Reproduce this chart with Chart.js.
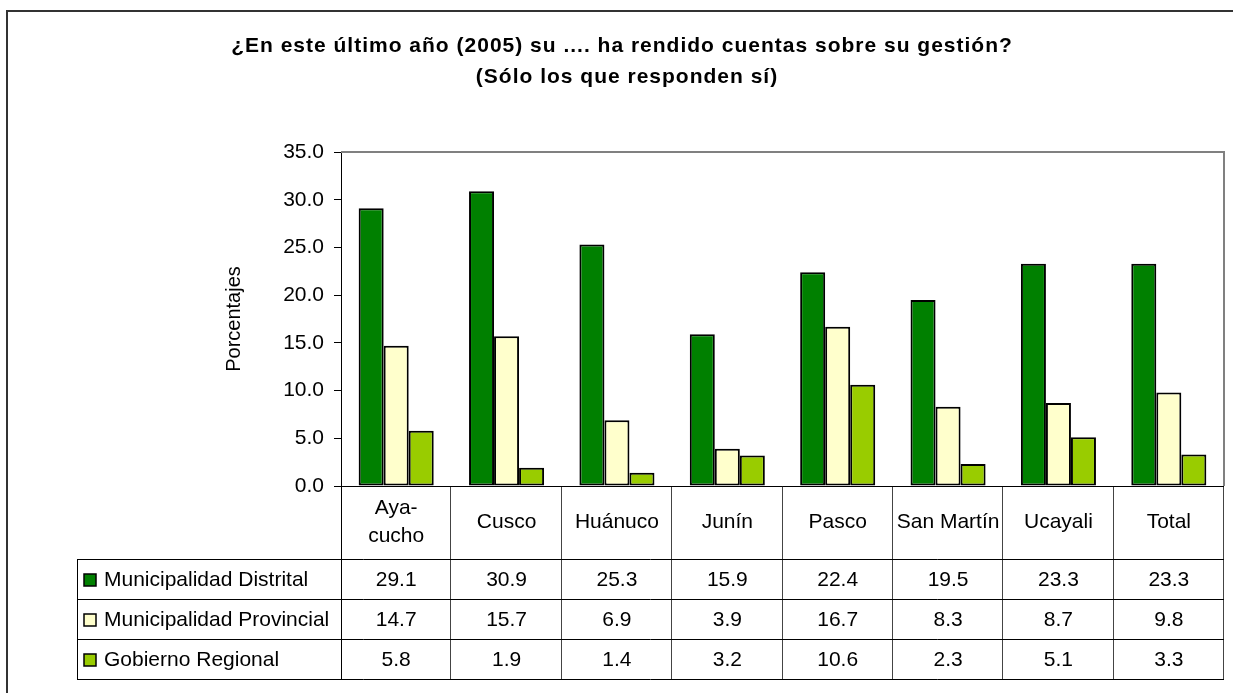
<!DOCTYPE html>
<html>
<head>
<meta charset="utf-8">
<script src="https://cdn.jsdelivr.net/npm/chart.js@4.4.1/dist/chart.umd.min.js"></script>
<style>
html,body{margin:0;padding:0;background:#fff;}
canvas{display:block;}
</style>
</head>
<body>
<canvas id="c" width="1233" height="693"></canvas>
<script>
const categories = [['Aya-','cucho'],'Cusco','Huánuco','Junín','Pasco','San Martín','Ucayali','Total'];
const seriesNames = ['Municipalidad Distrital','Municipalidad Provincial','Gobierno Regional'];
const distrital = [29.1,30.9,25.3,15.9,22.4,19.5,23.3,23.3];
const provincial = [14.7,15.7,6.9,3.9,16.7,8.3,8.7,9.8];
const regional = [5.8,1.9,1.4,3.2,10.6,2.3,5.1,3.3];
const seriesColors = ['#008000','#FFFFCC','#99CC00'];
const titleLines = ['¿En este último año (2005) su .... ha rendido cuentas sobre su gestión?','(Sólo los que responden sí)'];
const yAxisTitle = 'Porcentajes';
const yMin = 0, yMax = 35, yStep = 5;

const FONT = '"Liberation Sans", Arial, sans-serif';
const seriesValues = [distrital, provincial, regional];

const decorPlugin = {
  id: 'decor',
  afterDraw(chart) {
    const {ctx, chartArea: ca, scales: {x}} = chart;
    ctx.save();
    // outer frame
    ctx.strokeStyle = '#333';
    ctx.lineWidth = 2;
    ctx.beginPath();
    ctx.moveTo(7, 693);
    ctx.lineTo(7, 11);
    ctx.lineTo(1233, 11);
    ctx.stroke();

    // title
    ctx.fillStyle = '#000';
    ctx.font = 'bold 21px ' + FONT;
    ctx.textAlign = 'center';
    ctx.textBaseline = 'middle';
    try { ctx.letterSpacing = '1px'; } catch (e) {}
    ctx.fillText(titleLines[0], 622, 46);
    ctx.fillText(titleLines[1], 627, 77);
    try { ctx.letterSpacing = '0px'; } catch (e) {}

    // plot area top/right border (gray)
    ctx.strokeStyle = '#808080';
    ctx.lineWidth = 2;
    ctx.beginPath();
    ctx.moveTo(ca.left, ca.top);
    ctx.lineTo(ca.right, ca.top);
    ctx.lineTo(ca.right, ca.bottom);
    ctx.stroke();

    // data table
    const n = categories.length;
    const cw = (ca.right - ca.left) / n;
    const headTop = ca.bottom;
    const headH = 73;
    const rowH = 40;
    const tableLeft = 77;
    const tableBottom = headTop + headH + rowH * seriesValues.length;

    ctx.lineWidth = 1;
    ctx.strokeStyle = '#000';
    ctx.beginPath();
    ctx.moveTo(ca.left + 0.5, headTop);
    ctx.lineTo(ca.left + 0.5, tableBottom);
    ctx.moveTo(tableLeft + 0.5, headTop + headH);
    ctx.lineTo(tableLeft + 0.5, tableBottom);
    ctx.stroke();
    ctx.strokeStyle = '#444';
    ctx.beginPath();
    for (let i = 0; i < n; i++) {
      const xr = Math.round(x.getPixelForValue(i) + cw / 2) - 0.5;
      ctx.moveTo(xr, headTop);
      ctx.lineTo(xr, tableBottom);
    }
    ctx.stroke();
    ctx.strokeStyle = '#000';
    ctx.beginPath();
    for (let r = 0; r <= seriesValues.length; r++) {
      const y = headTop + headH + rowH * r + 0.5;
      ctx.moveTo(tableLeft, y);
      ctx.lineTo(ca.right, y);
    }
    ctx.stroke();
    // x axis line
    ctx.beginPath();
    ctx.moveTo(ca.left, ca.bottom + 0.5);
    ctx.lineTo(ca.right, ca.bottom + 0.5);
    ctx.stroke();

    // header labels
    ctx.fillStyle = '#000';
    ctx.font = '21px ' + FONT;
    ctx.textAlign = 'center';
    ctx.textBaseline = 'middle';
    categories.forEach((lab, i) => {
      const cx = x.getPixelForValue(i);
      const lines = Array.isArray(lab) ? lab : [lab];
      const lh = 28;
      const cy = headTop + headH / 2 - (lines.length - 1) * lh / 2;
      lines.forEach((l, k) => ctx.fillText(l, cx, cy + k * lh));
    });
    // rows
    seriesValues.forEach((vals, r) => {
      const cy = headTop + headH + rowH * r + rowH / 2 + 1;
      ctx.fillStyle = seriesColors[r];
      ctx.fillRect(84, cy - 6, 12, 12);
      ctx.strokeStyle = '#000';
      ctx.lineWidth = 1.5;
      ctx.strokeRect(84, cy - 6, 12, 12);
      ctx.fillStyle = '#000';
      ctx.textAlign = 'left';
      ctx.fillText(seriesNames[r], 104, cy);
      ctx.textAlign = 'center';
      vals.forEach((v, i) => {
        ctx.fillText(v.toFixed(1), x.getPixelForValue(i), cy);
      });
    });
    ctx.restore();
  }
};

new Chart(document.getElementById('c'), {
  type: 'bar',
  data: {
    labels: categories,
    datasets: seriesNames.map((name, i) => ({
      label: name,
      data: seriesValues[i],
      backgroundColor: seriesColors[i],
      borderColor: '#000',
      borderWidth: 2,
      borderSkipped: false,
      categoryPercentage: 0.68,
      barPercentage: 1.0
    }))
  },
  options: {
    responsive: false,
    devicePixelRatio: 1,
    animation: false,
    layout: { padding: { left: 222, top: 152, right: 9, bottom: 0 } },
    plugins: {
      legend: { display: false },
      title: { display: false },
      tooltip: { enabled: false }
    },
    scales: {
      x: {
        ticks: { display: false },
        grid: { display: false },
        border: { display: false },
        afterFit(s) { s.height = 207; }
      },
      y: {
        min: yMin,
        max: yMax,
        ticks: {
          stepSize: yStep,
          color: '#000',
          font: { family: FONT, size: 21 },
          padding: 10,
          callback: v => Number(v).toFixed(1)
        },
        grid: { drawOnChartArea: false, tickLength: 7, color: '#000' },
        border: { color: '#000', width: 1 },
        title: {
          display: true,
          text: yAxisTitle,
          color: '#000',
          font: { family: FONT, size: 20 },
          padding: { top: 0, bottom: 0 }
        },
        afterFit(s) { s.width = 119; }
      }
    }
  },
  plugins: [decorPlugin]
});
</script>
</body>
</html>
